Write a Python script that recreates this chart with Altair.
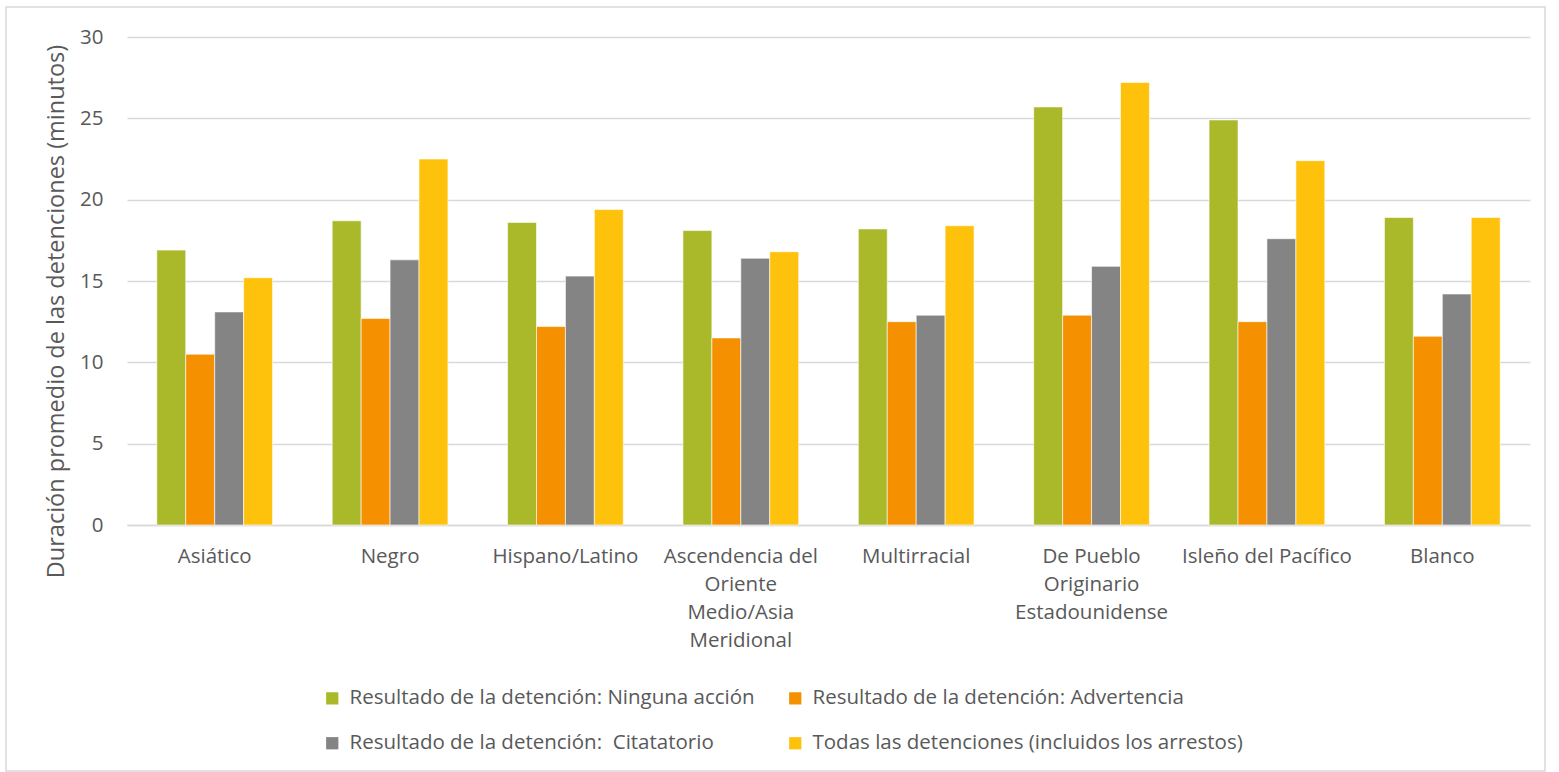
import altair as alt
import pandas as pd

categorias = [
    "Asiático",
    "Negro",
    "Hispano/Latino",
    "Ascendencia del Oriente Medio/Asia Meridional",
    "Multirracial",
    "De Pueblo Originario Estadounidense",
    "Isleño del Pacífico",
    "Blanco",
]
etiquetas = [
    ["Asiático"],
    ["Negro"],
    ["Hispano/Latino"],
    ["Ascendencia del", "Oriente", "Medio/Asia", "Meridional"],
    ["Multirracial"],
    ["De Pueblo", "Originario", "Estadounidense"],
    ["Isleño del Pacífico"],
    ["Blanco"],
]
series = [
    "Resultado de la detención: Ninguna acción",
    "Resultado de la detención: Advertencia",
    "Resultado de la detención: \u00a0Citatatorio",
    "Todas las detenciones (incluidos los arrestos)",
]
ninguna = [16.9, 18.7, 18.6, 18.1, 18.2, 25.7, 24.9, 18.9]
advertencia = [10.5, 12.7, 12.2, 11.5, 12.5, 12.9, 12.5, 11.6]
citatorio = [13.1, 16.3, 15.3, 16.4, 12.9, 15.9, 17.6, 14.2]
todas = [15.2, 22.5, 19.4, 16.8, 18.4, 27.2, 22.4, 18.9]
colores = ["#A9B92A", "#F59100", "#848484", "#FEC20C"]
y_ticks = [0, 5, 10, 15, 20, 25, 30]

valores = [ninguna, advertencia, citatorio, todas]
rows = []
for s, vals in zip(series, valores):
    for c, v in zip(categorias, vals):
        rows.append({"categoria": c, "serie": s, "valor": v})
df = pd.DataFrame(rows)

# label expression producing multi-line labels
expr = "datum.label"
for c, lines in reversed(list(zip(categorias, etiquetas))):
    arr = "[" + ",".join("'" + l + "'" for l in lines) + "]"
    expr = f"datum.label == '{c}' ? {arr} : ({expr})"

W, H = 1403, 488
FONT = "Open Sans"
TXT = "#595959"
FS = 20.5

bars = alt.Chart(df).mark_bar(stroke="white", strokeWidth=0.6).encode(
    x=alt.X(
        "categoria:N",
        sort=categorias,
        scale=alt.Scale(paddingInner=0.34, paddingOuter=0.17),
        axis=alt.Axis(
            title=None,
            labelAngle=0,
            labelExpr=expr,
            labelFont=FONT,
            labelFontSize=FS,
            labelColor=TXT,
            labelPadding=21,
            labelLineHeight=28,
            labelBaseline="top",
            ticks=False,
            domain=True,
            domainColor="#D9D9D9",
            domainWidth=1.5,
            labelLimit=300,
        ),
    ),
    xOffset=alt.XOffset("serie:N", sort=series, scale=alt.Scale(paddingInner=0, paddingOuter=0)),
    y=alt.Y(
        "valor:Q",
        scale=alt.Scale(domain=[0, 30], nice=False),
        axis=alt.Axis(
            title="Duración promedio de las detenciones (minutos)",
            titleFont=FONT,
            titleFontSize=23.5,
            titleFontWeight="normal",
            titleColor=TXT,
            titleAngle=-90,
            titleAlign="center",
            titleBaseline="middle",
            titleX=-71,
            titleY=274,
            values=y_ticks,
            labelFont=FONT,
            labelFontSize=FS,
            labelColor=TXT,
            labelPadding=24,
            ticks=False,
            domain=False,
            grid=True,
            gridColor="#D9D9D9",
            gridWidth=1.5,
        ),
    ),
    color=alt.Color(
        "serie:N",
        sort=series,
        scale=alt.Scale(domain=series, range=colores),
        legend=alt.Legend(
            title=None,
            orient="none",
            direction="horizontal",
            legendX=195,
            legendY=651,
            columns=2,
            columnPadding=30,
            rowPadding=24,
            symbolType="square",
            symbolSize=150,
            symbolStrokeWidth=0,
            labelFont=FONT,
            labelFontSize=FS,
            labelColor=TXT,
            labelLimit=700,
            labelOffset=7,
        ),
    ),
)

frame = alt.Chart(pd.DataFrame({"v": [0]})).mark_rect(
    fill=None, stroke="#D9D9D9", strokeWidth=1.5, clip=False
).encode(
    x=alt.value(-121),
    x2=alt.value(W + 15),
    y=alt.value(-30),
    y2=alt.value(H + 246),
)

chart = (
    alt.layer(frame, bars)
    .properties(
        width=W,
        height=H,
        autosize=alt.AutoSizeParams(type="none"),
        padding={"left": 127, "top": 37, "right": 29, "bottom": 247},
        background="white",
    )
    .configure_view(stroke=None)
)

chart.save("out.html", embed_options={"renderer": "svg", "actions": False})
